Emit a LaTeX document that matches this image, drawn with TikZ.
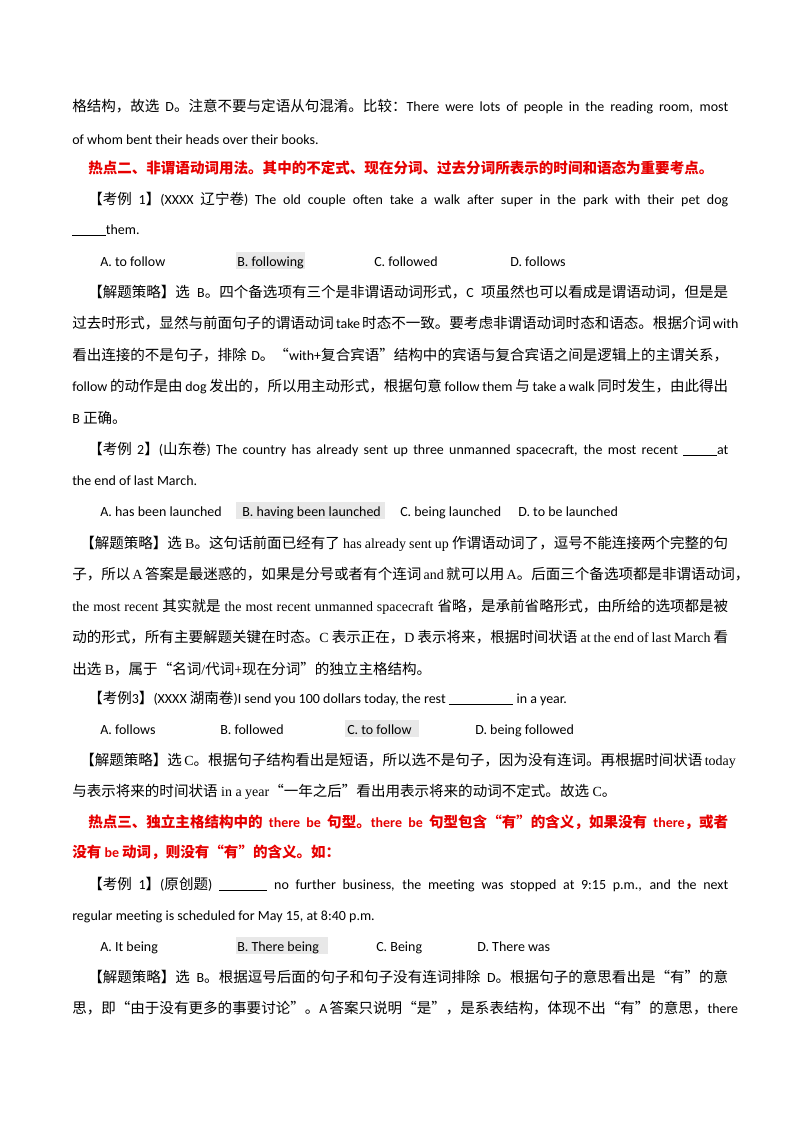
\documentclass[tikz,border=0pt]{standalone}
\usepackage{fontspec}
\setmainfont{Carlito}
\newfontfamily\cjk{Noto Sans CJK SC}[Scale=1.04]
\newfontfamily\tms{Liberation Serif}
\XeTeXinterchartokenstate=1
\newXeTeXintercharclass\CJKcls
\makeatletter
\count@="3000
\loop\XeTeXcharclass\count@=\CJKcls\ifnum\count@<"303F\advance\count@ 1 \repeat
\count@="4E00
\loop\XeTeXcharclass\count@=\CJKcls\ifnum\count@<"9FFF\advance\count@ 1 \repeat
\count@="FF00
\loop\XeTeXcharclass\count@=\CJKcls\ifnum\count@<"FFEF\advance\count@ 1 \repeat
\makeatother
\XeTeXcharclass"201C=\CJKcls
\XeTeXcharclass"201D=\CJKcls
\XeTeXinterchartoks 0 \CJKcls={\begingroup\cjk}
\XeTeXinterchartoks 4095 \CJKcls={\begingroup\cjk}
\XeTeXinterchartoks \CJKcls 0={\endgroup}
\XeTeXinterchartoks \CJKcls 4095={\endgroup}
\definecolor{hot}{RGB}{230,0,0}
\definecolor{hl}{RGB}{232,232,232}
\tikzset{ln/.style={anchor=base west,inner sep=0pt,font=\fontsize{10.4}{12}\selectfont},
 hot/.style={ln,text=hot,font=\fontsize{10.4}{12}\selectfont\bfseries}}
\newcommand\Lx[4][ln]{\node[#1] at (#2,#3+5) {#4};}
\newcommand\Jx[4][ln]{\node[#1] at (#2,#3+5) {\makebox[\dimexpr (728pt-#2pt)*744/1000\relax][s]{#4}};}
\newcommand\HL[3]{\fill[hl] (#1,#3-9) rectangle (#2,#3+8);}
\newcommand\us[1]{\rule[-1.5pt]{#1pt}{0.5pt}}
\begin{document}
\begin{tikzpicture}[x=0.744pt,y=-0.744pt]
\useasboundingbox (0,0) rectangle (800,1132);
\HL{236}{305}{261}\HL{236}{385}{511}\HL{345}{419}{729}\HL{236}{328}{946}
\Jx{72}{106}{格结构，故选 D。注意不要与定语从句混淆。比较：There were lots of  people  in  the  reading  room,  most}
\Lx{72}{139}{of  whom  bent  their  heads  over  their  books.}
\Lx[hot]{88}{168}{热点二、非谓语动词用法。其中的不定式、现在分词、过去分词所表示的时间和语态为重要考点。}
\Jx{88}{199}{【考例 1】(XXXX 辽宁卷)  The old couple often take a walk after super in the park with their pet dog}
\Lx{72}{229}{\us{25}them.}
\Lx{100}{261}{A. to follow}\Lx{237}{261}{B. following}\Lx{374}{261}{C. followed}\Lx{510}{261}{D. follows}
\Jx{88}{292}{【解题策略】选 B。四个备选项有三个是非谓语动词形式，C 项虽然也可以看成是谓语动词，但是是}
\Jx{72}{323}{过去时形式，显然与前面句子的谓语动词 take 时态不一致。要考虑非谓语动词时态和语态。根据介词 with}
\Jx{72}{355}{看出连接的不是句子，排除 D。“with+复合宾语”结构中的宾语与复合宾语之间是逻辑上的主谓关系，}
\Jx{72}{386}{follow 的动作是由 dog 发出的，所以用主动形式，根据句意 follow  them 与 take a walk 同时发生，由此得出}
\Lx{72}{418}{B 正确。}
\Jx{88}{449}{【考例 2】(山东卷)  The country has already sent up three unmanned spacecraft, the most recent \us{25}at}
\Lx{72}{480}{the end of last March.}
\Lx{100}{511}{A.  has been launched}\Lx{242}{511}{B.  having been launched}\Lx{400}{511}{C.  being launched}\Lx{518}{511}{D.  to be launched}
\Jx{80}{543}{\tms【解题策略】选 B。这句话前面已经有了 has already sent up 作谓语动词了，逗号不能连接两个完整的句}
\Jx{72}{574}{\tms 子，所以 A 答案是最迷惑的，如果是分号或者有个连词 and 就可以用 A。后面三个备选项都是非谓语动词，}
\Jx{72}{606}{\tms the most recent 其实就是 the most recent unmanned spacecraft 省略，是承前省略形式，由所给的选项都是被}
\Jx{72}{637}{\tms 动的形式，所有主要解题关键在时态。C 表示正在，D 表示将来，根据时间状语 at the end of last March 看}
\Lx{72}{669}{\tms 出选 B，属于“名词/代词+现在分词”的独立主格结构。}
\Lx{88}{698}{【考例3】(XXXX 湖南卷)I send you 100 dollars today, the rest \us{48} in a year.}
\Lx{100}{729}{A. follows}\Lx{220}{729}{B. followed}\Lx{347}{729}{C. to follow}\Lx{475}{729}{D. being followed}
\Jx{80}{760}{\tms【解题策略】选 C。根据句子结构看出是短语，所以选不是句子，因为没有连词。再根据时间状语 today}
\Lx{72}{791}{\tms 与表示将来的时间状语 in a year“一年之后”看出用表示将来的动词不定式。故选 C。}
\Jx[hot]{88}{822}{热点三、独立主格结构中的 there  be 句型。there  be 句型包含“有”的含义，如果没有 there，或者}
\Lx[hot]{72}{852}{没有 be 动词，则没有“有”的含义。如：}
\Jx{88}{884}{【考例 1】(原创题) \us{36}  no further business, the meeting was stopped at 9:15 p.m.,  and the next}
\Lx{72}{915}{regular meeting is scheduled for May 15, at 8:40 p.m.}
\Lx{100}{946}{A.  It  being}\Lx{237}{946}{B.  There  being}\Lx{376}{946}{C.  Being}\Lx{477}{946}{D.  There  was}
\Jx{88}{977}{【解题策略】选 B。根据逗号后面的句子和句子没有连词排除 D。根据句子的意思看出是“有”的意}
\Jx{72}{1008}{思，即“由于没有更多的事要讨论”。A 答案只说明“是”，是系表结构，体现不出“有”的意思，there}
\end{tikzpicture}
\end{document}
